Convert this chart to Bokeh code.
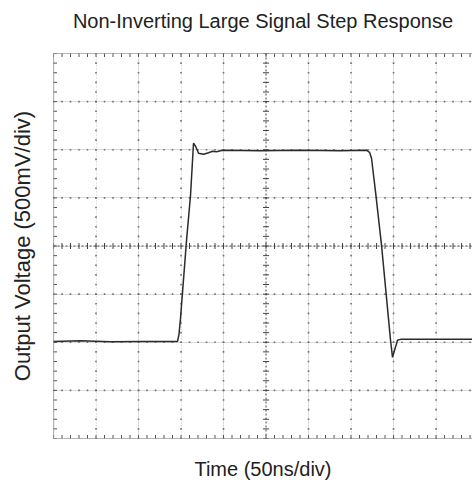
import numpy as np
from bokeh.plotting import figure
from bokeh.models import Grid, FixedTicker, Span, LinearAxis, ColumnDataSource
from bokeh.embed import file_html
from bokeh.resources import INLINE

# Scope trace: time in ns, output in volts
time_ns = [0, 31.8, 67.1, 102.4, 137.6, 145.9, 147.6, 149.4, 156.5, 161.2,
           164.7, 167.1, 170.6, 176.5, 182.4, 187.1, 191.8, 198.8, 243.5,
           290.6, 337.6, 368.2, 371.8, 374.1, 379.0, 385.9, 396.5, 398.8,
           401.2, 404.7, 408.2, 443.5, 492.9]
volts = [-0.991, -0.985, -0.996, -0.991, -0.991, -0.991, -0.918, -0.752,
         0.059, 0.527, 1.068, 1.036, 0.964, 0.953, 0.969, 0.984, 0.979,
         0.995, 0.990, 0.995, 0.990, 0.995, 0.974, 0.912, 0.550, 0.007,
         -0.980, -1.157, -1.084, -0.980, -0.970, -0.970, -0.970]

# Screen graticule: 50 ns/div horizontally, 500 mV/div vertically
ns_per_div = 50
v_per_div = 0.5
x_divs = list(range(0, 501, ns_per_div))
y_divs = [-2.0, -1.5, -1.0, -0.5, 0.0, 0.5, 1.0, 1.5, 2.0]
x_start, x_end = 0, 492.9
y_start, y_end = -2.0, 2.0

title_text = "Non-Inverting Large Signal Step Response"
x_label = "Time (50ns/div)"
y_label = "Output Voltage (500mV/div)"

FONT = "Liberation Sans"

p = figure(width=472, height=485, output_backend="svg", toolbar_location=None,
           x_axis_location=None, y_axis_location=None,
           x_range=(x_start, x_end), y_range=(y_start, y_end),
           min_border_left=53, min_border_right=0,
           min_border_top=53, min_border_bottom=47)
p.outline_line_color = None
p.background_fill_color = "white"
p.border_fill_color = "white"


def label_axis(text, size, standoff):
    """An axis that only carries a text label beside the frame."""
    ax = LinearAxis(ticker=FixedTicker(ticks=[]), axis_label=text,
                    axis_label_text_font=FONT,
                    axis_label_text_font_size=size,
                    axis_label_text_font_style="normal",
                    axis_label_text_color="#222222",
                    axis_label_standoff=standoff,
                    axis_line_color=None,
                    major_tick_in=0, major_tick_out=0,
                    minor_tick_in=0, minor_tick_out=0,
                    major_label_text_font_size="0px",
                    major_label_standoff=0)
    return ax


p.add_layout(label_axis(title_text, "20px", 22), "above")
p.add_layout(label_axis(x_label, "20px", 19), "below")
p.add_layout(label_axis(y_label, "22px", 19), "left")

# faint dotted graticule lines
inner_x = [t for t in x_divs if x_start < t < x_end and t != 250]
inner_y = [v for v in y_divs if y_start < v < y_end and v != 0]
p.add_layout(Grid(dimension=0, ticker=FixedTicker(ticks=inner_x),
                  grid_line_color="#c8c8c8", grid_line_dash="1 2",
                  grid_line_width=1))
p.add_layout(Grid(dimension=1, ticker=FixedTicker(ticks=inner_y),
                  grid_line_color="#c8c8c8", grid_line_dash="1 2",
                  grid_line_width=1))

# darker dots at each fifth of a division along the graticule lines
minor_x = np.arange(0, x_end + 0.01, ns_per_div / 5)
minor_y = np.arange(y_start, y_end + 0.001, v_per_div / 5)
dx, dy = [], []
for t in inner_x:
    dx += [t] * len(minor_y)
    dy += list(minor_y)
for v in inner_y:
    dx += list(minor_x)
    dy += [v] * len(minor_x)
p.scatter(dx, dy, marker="square", size=1.6, color="#707070", line_color=None)

# centre crosshair with tick marks
p.add_layout(Span(location=250, dimension="height", line_color="#444444",
                  line_dash="2 2", line_width=1))
p.add_layout(Span(location=0, dimension="width", line_color="#444444",
                  line_dash="2 2", line_width=1))
p.scatter(minor_x, np.zeros_like(minor_x), marker="dash", angle=np.pi / 2,
          size=6, line_color="#444444", line_width=1)
p.scatter(np.full_like(minor_y, 250.0), minor_y, marker="dash",
          size=6, line_color="#444444", line_width=1)

# frame edges (left, top, bottom) with inward ticks
for loc, dim in [(x_start, "height"), (y_start, "width"), (y_end, "width")]:
    p.add_layout(Span(location=loc, dimension=dim, line_color="#6a6a6a",
                      line_width=1.2))
p.scatter(np.concatenate([minor_x, minor_x]),
          np.concatenate([np.full_like(minor_x, y_start), np.full_like(minor_x, y_end)]),
          marker="dash", angle=np.pi / 2, size=7, line_color="#555555", line_width=1)
p.scatter(np.full_like(minor_y, x_start), minor_y, marker="dash",
          size=7, line_color="#555555", line_width=1)

# output trace
src = ColumnDataSource(data=dict(t=time_ns, v=volts))
p.line("t", "v", source=src, line_color="#2b2b2b", line_width=1.5)

open("out.html", "w").write(file_html(p, INLINE))
